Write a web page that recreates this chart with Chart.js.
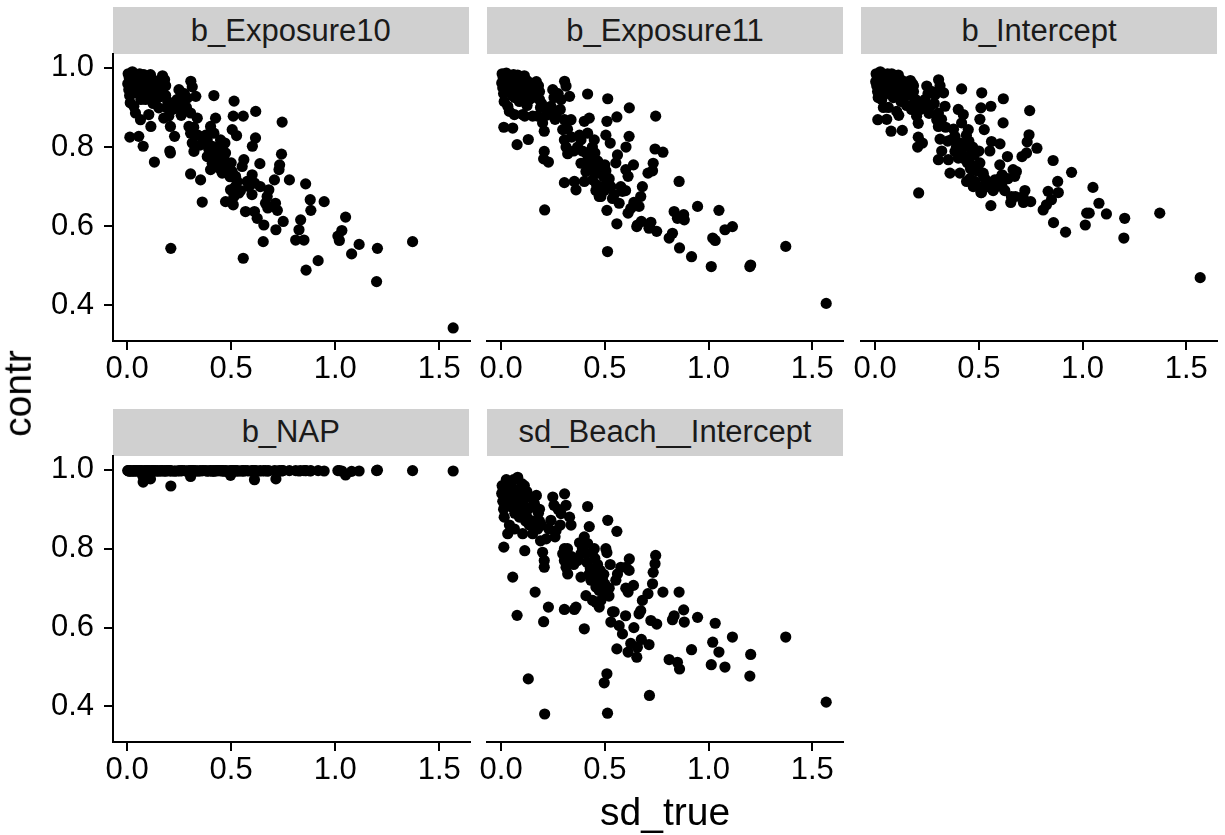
<!DOCTYPE html>
<html><head><meta charset="utf-8">
<script src="https://cdn.jsdelivr.net/npm/chart.js@4.4.1/dist/chart.umd.min.js"></script>
<style>
html,body{margin:0;padding:0;background:#fff;}
body{width:1225px;height:835px;position:relative;overflow:hidden;font-family:"Liberation Sans",Arial,Helvetica,sans-serif;}
.strip{position:absolute;background:#d0d0d0;color:#1a1a1a;font-size:31px;display:flex;align-items:center;justify-content:center;white-space:nowrap;}
.wrap{position:absolute;}
.title{position:absolute;color:#000;font-size:39px;line-height:39px;white-space:nowrap;}
</style></head>
<body>
<script>
// ---- data (shared x, one y-array per facet) ----
const sdTrue = [
 1.567,1.372,1.199,1.203,1.115,1.079,1.050,1.032,1.020,1.013,0.947,0.918,
 0.858,0.860,0.880,0.883,0.834,0.826,0.810,0.850,
 0.745,0.742,0.780,0.733,0.730,0.708,0.713,0.715,0.750,0.722,
 0.618,0.617,0.602,0.638,0.601,0.612,0.681,0.673,0.665,0.676,0.657,0.654,0.612,0.625,
 0.514,0.510,0.558,0.526,0.505,0.561,0.553,0.558,0.577,0.585,0.569,0.521,0.529,0.497,0.537,0.513,0.510,0.505,
 0.417,0.425,0.401,0.417,0.449,0.385,0.369,0.409,0.425,0.385,0.433,0.457,0.473,0.409,0.441,0.489,0.457,0.481,0.401,0.473,0.361,0.353,
 0.306,0.313,0.330,0.289,0.249,0.240,0.265,0.217,0.200,0.208,0.305,0.337,0.297,0.305,0.313,0.321,0.208,0.228,0.210,0.205,0.305,
 0.005,0.010,0.003,0.008,0.012,0.015,0.013,0.025,0.030,0.032,0.035,0.032,0.040,0.045,0.048,0.050,0.056,0.060,0.064,0.066,0.070,0.075,0.077,0.080,0.085,0.088,0.090,0.096,0.100,0.104,0.108,0.112,0.114,0.118,0.124,0.128,0.131,0.136,0.140,0.145,0.152,0.160,0.164,0.170,0.176,0.180,0.185,0.190,
 0.440,0.465,0.452,0.478,0.495,0.470,0.430,0.392,0.378,0.500,0.520,0.545,0.460,0.415,0.445,0.255,0.275,0.230,0.260,0.285,0.320,0.340,0.350,0.020,0.040,0.055,0.065,0.082,0.095,0.110,0.125,0.150,0.165,0.185,0.195,0.600,0.640
];
const contrExposure10 = [
 .343,.561,.460,.544,.554,.530,.623,.589,.564,.575,.662,.513,
 .707,.489,.667,.640,.616,.591,.565,.565,
 .863,.782,.717,.755,.743,.717,.658,.591,.612,.640,
 .890,.823,.802,.758,.730,.709,.692,.675,.658,.646,.603,.561,.637,.620,
 .916,.878,.878,.829,.844,.768,.751,.519,.713,.700,.637,.726,.713,.692,.684,.675,.654,.738,
 .930,.873,.852,.835,.818,.818,.810,.802,.785,.776,.776,.802,.785,.759,.747,.759,.734,.734,.743,.662,.661,.717,
 .966,.952,.928,.924,.945,.920,.903,.895,.878,.852,.886,.873,.852,.835,.810,.789,.785,.827,.544,.790,.732,
 .985,.975,.960,.945,.930,.912,.825,.990,.970,.950,.937,.903,.886,.980,.962,.945,.827,.985,.869,.920,.970,.955,.802,.983,.935,.920,.960,.962,.980,.882,.945,.983,.852,.930,.970,.945,.762,.920,.965,.950,.899,.954,.935,.980,.873,.970,.930,.900,
 .800,.770,.790,.752,.725,.810,.760,.795,.830,.760,.700,.690,.745,.780,.765,.925,.935,.900,.880,.900,.850,.830,.805,.955,.970,.935,.950,.945,.930,.960,.910,.925,.960,.955,.915,.680,.700
];
const contrExposure11 = [
 .405,.549,.498,.502,.599,.591,.640,.564,.570,.498,.650,.523,
 .713,.545,.629,.616,.637,.582,.570,.620,
 .878,.795,.787,.759,.740,.734,.595,.600,.587,.610,
 .899,.827,.800,.755,.743,.726,.700,.675,.650,.612,.603,.599,.633,.645,
 .922,.865,.876,.810,.830,.780,.760,.606,.700,.688,.658,.720,.700,.690,.670,.536,.640,.740,
 .934,.873,.865,.835,.818,.818,.800,.785,.772,.759,.776,.751,.734,.738,.717,.700,.690,.675,.713,.675,.692,.713,
 .966,.954,.928,.920,.945,.903,.882,.880,.861,.840,.869,.869,.844,.818,.800,.783,.789,.762,.641,.770,.710,
 .985,.975,.962,.950,.935,.915,.850,.987,.972,.955,.940,.903,.890,.980,.965,.948,.848,.983,.882,.925,.968,.955,.806,.982,.935,.915,.960,.955,.978,.882,.945,.980,.878,.925,.968,.940,.819,.920,.962,.950,.878,.955,.930,.965,.878,.955,.920,.900,
 .800,.765,.785,.745,.725,.760,.750,.790,.830,.755,.705,.680,.705,.765,.740,.925,.935,.890,.870,.895,.845,.825,.790,.960,.965,.930,.950,.945,.935,.955,.905,.925,.945,.940,.910,.690,.660
];
const contrIntercept = [
 .470,.633,.570,.620,.631,.658,.698,.633,.633,.603,.736,.585,
 .766,.609,.713,.685,.688,.654,.641,.667,
 .892,.831,.797,.813,.785,.776,.675,.660,.662,.690,
 .922,.861,.808,.776,.755,.730,.738,.726,.743,.675,.675,.660,.700,.690,
 .937,.899,.903,.844,.870,.814,.790,.652,.717,.700,.690,.734,.720,.700,.710,.685,.685,.760,
 .947,.882,.895,.861,.844,.827,.819,.810,.802,.789,.776,.759,.751,.734,.713,.740,.720,.713,.772,.700,.734,.768,
 .970,.955,.937,.932,.954,.920,.903,.895,.878,.860,.886,.903,.869,.852,.820,.790,.825,.810,.684,.800,.768,
 .985,.978,.965,.955,.940,.925,.869,.990,.975,.960,.945,.920,.900,.982,.968,.950,.870,.985,.900,.935,.972,.958,.840,.985,.940,.925,.962,.958,.980,.890,.950,.982,.880,.935,.970,.945,.842,.925,.965,.952,.905,.958,.935,.968,.895,.960,.940,.915,
 .830,.790,.815,.780,.750,.800,.770,.800,.845,.790,.730,.700,.745,.790,.760,.935,.940,.905,.885,.910,.870,.850,.815,.965,.970,.940,.955,.950,.940,.960,.915,.930,.950,.955,.920,.720,.720
];
const contrNAP = [
 .997,.998,.998,.999,.997,.996,.987,.997,.998,.998,.997,.998,
 .998,.998,.997,.998,.998,.997,.998,.998,
 .998,.997,.998,.998,.997,.998,.997,.977,.998,.997,
 .998,.997,.998,.997,.998,.975,.998,.997,.998,.997,.998,.997,.998,.997,
 .998,.997,.998,.997,.998,.997,.998,.997,.998,.997,.998,.997,.998,.986,.997,.998,.997,.998,
 .998,.997,.998,.997,.998,.997,.998,.997,.998,.997,.998,.997,.998,.997,.998,.997,.998,.997,.998,.997,.998,.997,
 .998,.997,.998,.997,.998,.997,.998,.997,.998,.997,.983,.997,.998,.997,.998,.997,.998,.997,.959,.998,.997,
 .998,.997,.998,.997,.998,.997,.998,.997,.998,.997,.998,.997,.998,.997,.998,.997,.998,.997,.998,.997,.998,.985,.969,.997,.998,.997,.998,.997,.998,.997,.998,.977,.997,.998,.997,.998,.997,.998,.997,.998,.997,.998,.997,.998,.997,.998,.997,.998,
 .998,.997,.998,.997,.998,.997,.998,.997,.998,.997,.998,.997,.998,.997,.998,.997,.998,.997,.998,.997,.998,.997,.998,.997,.998,.997,.998,.997,.998,.997,.998,.997,.998,.997,.998,.997,.998
];
const contrSdBeach = [
 .411,.576,.477,.532,.576,.500,.538,.611,.563,.506,.626,.544,
 .690,.495,.645,.614,.630,.620,.519,.512,
 .783,.762,.690,.740,.711,.686,.557,.428,.609,.618,
 .774,.745,.753,.707,.700,.690,.669,.643,.635,.570,.550,.525,.538,.560,
 .872,.790,.844,.760,.800,.736,.720,.546,.753,.584,.605,.700,.614,.460,.640,.383,.483,.690,
 .907,.856,.830,.813,.800,.787,.770,.787,.736,.728,.720,.703,.694,.681,.669,.720,.664,.669,.597,.652,.652,.646,
 .939,.910,.880,.889,.931,.872,.846,.825,.791,.770,.800,.860,.787,.770,.753,.736,.753,.652,.381,.615,.646,
 .960,.950,.940,.920,.900,.880,.804,.975,.955,.930,.910,.838,.860,.965,.945,.925,.728,.975,.850,.890,.950,.935,.631,.981,.905,.880,.940,.920,.965,.838,.910,.960,.795,.870,.945,.900,.470,.860,.930,.905,.838,.915,.690,.935,.850,.890,.870,.820,
 .790,.760,.775,.745,.735,.700,.750,.800,.815,.710,.680,.640,.725,.765,.745,.910,.900,.850,.830,.860,.800,.780,.760,.945,.940,.905,.930,.915,.890,.935,.880,.870,.905,.900,.860,.630,.600
];
const facetNames = ["b_Exposure10","b_Exposure11","b_Intercept","b_NAP","sd_Beach__Intercept"];
const facetValues = [contrExposure10, contrExposure11, contrIntercept, contrNAP, contrSdBeach];
const xTickValues = [0.0, 0.5, 1.0, 1.5];
const yTickValues = [0.4, 0.6, 0.8, 1.0];

// ---- layout ----
const FONT = '"Liberation Sans", Arial, Helvetica, sans-serif';
const X_MIN = -0.068, X_MAX = 1.648, Y_MIN = 0.310, Y_MAX = 1.035;
const YAX_W = 112, TOP_PAD = 40, XAX_H = 60, STRIP_H = 47;
const panelBoxes = [
  {left:112.5, right:469, top:54,    bottom:340.7, yAxis:true},
  {left:487,   right:843, top:54,    bottom:340.7, yAxis:false},
  {left:861,   right:1217,top:54,    bottom:340.7, yAxis:false},
  {left:112.5, right:469, top:455.7, bottom:741.7, yAxis:true},
  {left:487,   right:843, top:455.7, bottom:741.7, yAxis:false}
];

panelBoxes.forEach((p, i) => {
  const strip = document.createElement('div');
  strip.className = 'strip';
  strip.style.left = p.left + 'px';
  strip.style.width = (p.right - p.left) + 'px';
  strip.style.top = (p.top - STRIP_H) + 'px';
  strip.style.height = STRIP_H + 'px';
  strip.textContent = facetNames[i];
  document.body.appendChild(strip);

  const rightPad = 8;
  const w = Math.round(YAX_W + (p.right - p.left) + rightPad);
  const h = Math.round(TOP_PAD + (p.bottom - p.top) + XAX_H);
  const wrap = document.createElement('div');
  wrap.className = 'wrap';
  wrap.style.left = (p.left - YAX_W) + 'px';
  wrap.style.top = (p.top - TOP_PAD) + 'px';
  wrap.style.width = w + 'px';
  wrap.style.height = h + 'px';
  const cv = document.createElement('canvas');
  cv.width = w; cv.height = h;
  cv.style.width = w + 'px'; cv.style.height = h + 'px';
  wrap.appendChild(cv);
  document.body.appendChild(wrap);

  const vals = facetValues[i];
  new Chart(cv, {
    type: 'scatter',
    data: { datasets: [{
      data: sdTrue.map((x, k) => ({x: x, y: vals[k]})),
      backgroundColor: '#000', borderColor: '#000', borderWidth: 0,
      pointRadius: 5.6, pointHoverRadius: 5.6
    }]},
    options: {
      responsive: false, animation: false, devicePixelRatio: 1,
      layout: { autoPadding: false, padding: {top: TOP_PAD, right: rightPad, left: 0, bottom: 0} },
      plugins: { legend: {display: false}, tooltip: {enabled: false} },
      events: [],
      scales: {
        x: {
          type: 'linear', position: 'bottom', min: X_MIN, max: X_MAX,
          afterBuildTicks: s => { s.ticks = xTickValues.map(v => ({value: v})); },
          afterFit: s => { s.height = XAX_H; },
          ticks: { color: '#000', font: {family: FONT, size: 31}, padding: 1, maxRotation: 0, autoSkip: false,
                   callback: v => Number(v).toFixed(1) },
          grid: { display: true, drawOnChartArea: false, drawTicks: true, tickLength: 9, color: '#000', lineWidth: 2 },
          border: { display: true, color: '#000', width: 2 }
        },
        y: {
          type: 'linear', position: 'left', min: Y_MIN, max: Y_MAX,
          afterBuildTicks: s => { s.ticks = yTickValues.map(v => ({value: v})); },
          afterFit: s => { s.width = YAX_W; },
          ticks: { display: p.yAxis, color: '#000', font: {family: FONT, size: 31}, padding: 10,
                   callback: v => Number(v).toFixed(1) },
          grid: { display: p.yAxis, drawOnChartArea: false, drawTicks: true, tickLength: 9, color: '#000', lineWidth: 2 },
          border: { display: p.yAxis, color: '#000', width: 2 }
        }
      }
    }
  });
});

// axis titles
const xt = document.createElement('div');
xt.className = 'title'; xt.textContent = 'sd_true';
document.body.appendChild(xt);
xt.style.left = (665 - xt.offsetWidth / 2) + 'px';
xt.style.top = '792px';

const yt = document.createElement('div');
yt.className = 'title'; yt.textContent = 'contr';
document.body.appendChild(yt);
const ytw = yt.offsetWidth;
yt.style.left = (17 - ytw / 2) + 'px';
yt.style.top = (393 - 19.5) + 'px';
yt.style.transform = 'rotate(-90deg)';
yt.style.transformOrigin = '50% 50%';
</script>
</body></html>
